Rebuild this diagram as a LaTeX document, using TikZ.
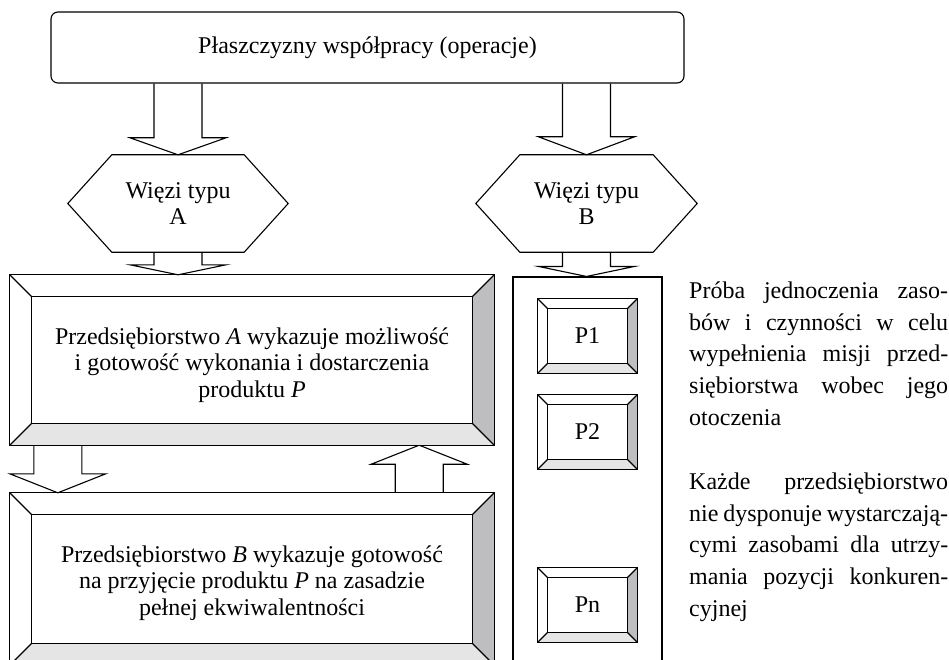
\documentclass[tikz,border=0pt]{standalone}
\usepackage{fontspec}
\setmainfont{Liberation Serif}
\usetikzlibrary{calc,backgrounds}
\tikzset{>=latex}

\definecolor{rimdark}{RGB}{190,190,193}
\definecolor{rimlight}{RGB}{229,229,230}
\setlength{\parindent}{0pt}

\tikzset{
    line/.style={line width=1.1pt, line join=miter},
    hollow/.style={line, fill=white},
    txt/.style={inner sep=0pt, align=center, font=\fontsize{24}{26.5}\selectfont},
    note/.style={inner sep=0pt, text width=259pt, align=left, anchor=north west, font=\fontsize{24}{31.7}\selectfont},
}

\newlength\colw
\setlength\colw{259pt}
\newcommand\jline[1]{{\spaceskip=0pt\xspaceskip=0pt\makebox[\colw][s]{#1}}}

% hollow arrow, tail at #1, tip at #2, head length #3
\newcommand\blockarrow[3]{%
    \draw[hollow] ($(#1)+(-24,0)$) -- ($(#2)+(-24,{-(#3)})$) -- ($(#2)+(-48,{-(#3)})$)
        -- (#2) -- ($(#2)+(48,{-(#3)})$) -- ($(#2)+(24,{-(#3)})$) -- ($(#1)+(24,0)$);}

% bevelled frame round node #1, rim #2
\newcommand\bevel[2]{%
    \fill[rimdark] (#1.north east) -- (#1.south east) -- ($(#1.south east)+(-#2,-#2)$) -- ($(#1.north east)+(-#2,#2)$) -- cycle;
    \fill[rimlight] (#1.south west) -- (#1.south east) -- ($(#1.south east)+(-#2,-#2)$) -- ($(#1.south west)+(#2,-#2)$) -- cycle;
    \draw[line] ($(#1.north west)+(#2,#2)$) rectangle ($(#1.south east)+(-#2,-#2)$);
    \foreach \corner/\dx/\dy in {north west/1/1, north east/-1/1, south east/-1/-1, south west/1/-1}
        \draw[line] (#1.\corner) -- ++(\dx*#2,\dy*#2);
    \draw[line] (#1.north west) rectangle (#1.south east);}

\begin{document}
\begin{tikzpicture}[x=1pt, y=-1pt]
    \clip (0,0) rectangle (949,660);

    \node[txt, draw, line, rounded corners=7pt, minimum width=633pt, minimum height=71pt] (plane) at (367.5,47.5) {Płaszczyzny współpracy (operacje)};

    % hexagons
    \node[txt, minimum width=220pt, minimum height=97pt] (hexA) at (178,203.5) {Więzi typu\\A};
    \node[txt, minimum width=221pt, minimum height=97pt] (hexB) at (586.5,203.5) {Więzi typu\\B};
    \foreach \h in {hexA,hexB}
        \draw[line] ($(\h.north west)+(44,0)$) -- ($(\h.north east)+(-44,0)$) -- (\h.east)
            -- ($(\h.south east)+(-44,0)$) -- ($(\h.south west)+(44,0)$) -- (\h.west) -- cycle;

    % firms
    \node[minimum width=484pt, minimum height=170pt] (boxA) at (252,360) {};
    \node[minimum width=484pt, minimum height=172pt] (boxB) at (252,579) {};
    \bevel{boxA}{22}
    \bevel{boxB}{22}
    \node[txt] (firmA) at ($(boxA)+(0,5)$) {Przedsiębiorstwo \emph{A} wykazuje możliwość\\i gotowość wykonania i dostarczenia\\produktu \emph{P}};
    \node[txt] (firmB) at ($(boxB)+(0,4)$) {Przedsiębiorstwo \emph{B} wykazuje gotowość\\na przyjęcie produktu \emph{P} na zasadzie\\pełnej ekwiwalentności};

    % products
    \node[draw, line, minimum width=149pt, minimum height=420pt] (prodcol) at (587.5,487) {};
    \foreach \p/\y in {1/336, 2/432, n/605}
        \node[txt, minimum width=99pt, minimum height=74pt] (p\p) at (587.5,\y) {P\p};
    \foreach \p in {p1,p2,pn}
    {
        \bevel{\p}{10}
    }

    \node[note] (aim) at (689,281.5) {\jline{Próba jednoczenia zaso-}\\\jline{bów i czynności w celu}\\\jline{wypełnienia misji przed-}\\\jline{siębiorstwa wobec jego}\\otoczenia};
    \node[note] (lack) at (689,472.5) {\jline{Każde przedsiębiorstwo}\\\jline{nie dysponuje wystarczają-}\\\jline{cymi zasobami dla utrzy-}\\\jline{mania pozycji konkuren-}\\cyjnej};

    \coordinate (dnA) at ($(boxA.south west)+(48,0)$);
    \coordinate (upB) at ($(boxB.north east)+(-75,0)$);

    \begin{scope}[on background layer]
        \blockarrow{plane.south -| hexA}{hexA.north}{17}
        \blockarrow{hexA.south}{boxA.north -| hexA}{10}
        \blockarrow{plane.south -| hexB}{hexB.north}{18}
        \blockarrow{hexB.south}{prodcol.north -| hexB}{10}
        \blockarrow{dnA}{dnA |- boxB.north}{19}
        \blockarrow{upB}{upB |- boxA.south}{-19}
    \end{scope}

\end{tikzpicture}
\end{document}
